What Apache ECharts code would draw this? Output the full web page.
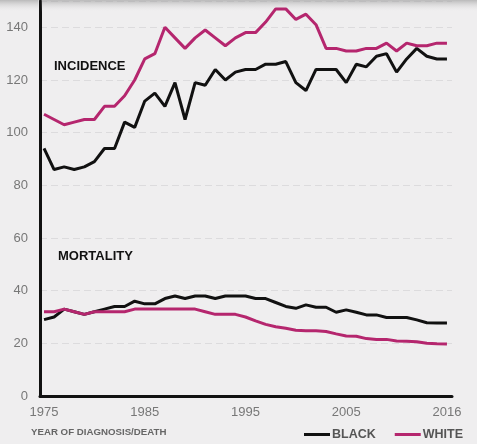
<!DOCTYPE html>
<html><head><meta charset="utf-8">
<script src="https://cdn.jsdelivr.net/npm/echarts@6/dist/echarts.min.js"></script>
<style>html,body{margin:0;padding:0;background:#efeeef}#c{width:477px;height:444px}</style>
</head><body><div id="c"></div>
<script>
const years = [1975,1976,1977,1978,1979,1980,1981,1982,1983,1984,1985,1986,1987,1988,1989,1990,1991,1992,1993,1994,1995,1996,1997,1998,1999,2000,2001,2002,2003,2004,2005,2006,2007,2008,2009,2010,2011,2012,2013,2014,2015];
const incidenceBlack = [94,86,87,86,87,89,94,94,104,102,112,115,110,119,105,119,118,124,120,123,124,124,126,126,127,119,116,124,124,124,119,126,125,129,130,123,128,132,129,128,128];
const incidenceWhite = [107,105,103,104,105,105,110,110,114,120,128,130,140,136,132,136,139,136,133,136,138,138,142,147,147,143,145,141,132,132,131,131,132,132,134,131,134,133,133,134,134];
const mortalityBlack = [29,30,33,32,31,32,33,34,34,36,35,35,37,38,37,38,38,37,38,38,38,37,37,35.5,34,33.3,34.6,33.7,33.7,31.8,32.7,31.8,30.8,30.8,29.8,29.8,29.8,28.9,27.8,27.7,27.7];
const mortalityWhite = [32,32,33,32,31,32,32,32,32,33,33,33,33,33,33,33,32,31,31,31,30,28.5,27.2,26.3,25.7,25,24.8,24.8,24.5,23.6,22.8,22.7,21.8,21.5,21.5,20.9,20.8,20.6,20,19.8,19.7];
const xTickValues = [1975,1985,1995,2005,2015];
const xTickLabels = ['1975','1985','1995','2005','2016'];
const seriesNames = ['BLACK','WHITE'];
const annotations = ['INCIDENCE','MORTALITY'];
const xAxisTitle = 'YEAR OF DIAGNOSIS/DEATH';

const BLACK = '#111111', WHITE = '#b5266e';
const pts = arr => years.map((y,i)=>[y, arr[i]]);
const mk = (name, arr, color) => ({
  name, type:'line', data: pts(arr), symbol:'none', smooth:false,
  lineStyle:{color, width:3}, itemStyle:{color}, z:3
});
const chart = echarts.init(document.getElementById('c'));
const FONT = '"Liberation Sans", Arial, sans-serif';
chart.setOption({
  animation:false,
  backgroundColor:'#efeeef',
  grid:{left:40, right:25, top:1, bottom:48, containLabel:false},
  xAxis:{type:'value', min:1974.6, max:2015.5,
    axisLine:{show:true, lineStyle:{color:'#111', width:3}},
    axisTick:{show:false}, splitLine:{show:false},
    axisLabel:{customValues:xTickValues, formatter:v=>xTickLabels[xTickValues.indexOf(v)] || '',
      color:'#777', fontSize:13, margin:10, fontFamily:FONT}
  },
  yAxis:{type:'value', min:0, max:150, interval:20,
    axisLine:{show:true, lineStyle:{color:'#111', width:3}},
    axisTick:{show:false},
    splitLine:{show:true, lineStyle:{color:'#dcdbdd', width:1, type:[7,4]}},
    axisLabel:{color:'#777', fontSize:13, margin:12, fontFamily:FONT, showMaxLabel:false,
      formatter:v=> v>140 ? '' : String(v)}
  },
  legend:{data:seriesNames, left:299, top:423, icon:'rect', itemWidth:26, itemHeight:3, itemGap:19,
    textStyle:{color:'#555', fontSize:12.5, fontWeight:'bold', fontFamily:FONT, padding:[0,0,0,-3]}},
  graphic:[
    {type:'rect', left:0, top:0, shape:{width:38.5, height:12}, z:1, silent:true,
      style:{fill:new echarts.graphic.LinearGradient(0,0,0,1,[{offset:0,color:'rgba(150,150,150,0.6)'},{offset:1,color:'rgba(239,238,239,0)'}])}},
    {type:'rect', left:41.5, top:0, shape:{width:436, height:12}, z:1, silent:true,
      style:{fill:new echarts.graphic.LinearGradient(0,0,0,1,[{offset:0,color:'rgba(150,150,150,0.6)'},{offset:1,color:'rgba(239,238,239,0)'}])}},
    {type:'text', left:54, top:60, z:5, style:{text:annotations[0], fill:'#111', font:'bold 13px '+FONT}},
    {type:'text', left:58, top:250, z:5, style:{text:annotations[1], fill:'#111', font:'bold 13px '+FONT}},
    {type:'text', left:31, top:427, z:5, style:{text:xAxisTitle, fill:'#666', font:'bold 9.7px '+FONT}}
  ],
  series:[
    mk('BLACK', incidenceBlack, BLACK),
    mk('WHITE', incidenceWhite, WHITE),
    mk('BLACK', mortalityBlack, BLACK),
    mk('WHITE', mortalityWhite, WHITE)
  ]
});
</script></body></html>
